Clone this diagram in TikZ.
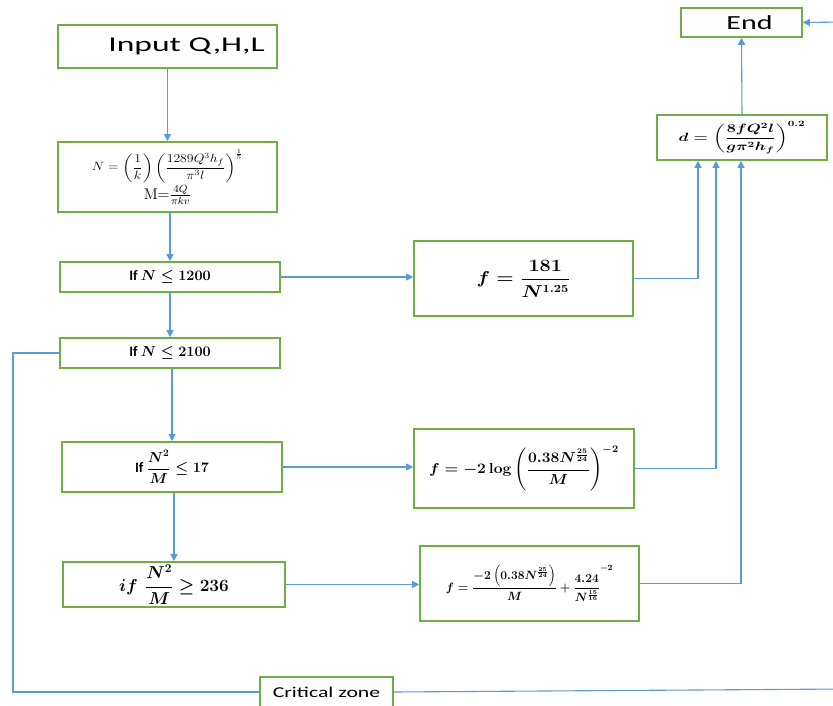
\documentclass[tikz,border=0pt]{standalone}
\usepackage{amsmath}
\usepackage{graphicx}
\usepackage[no-math]{fontspec}
\setmainfont{Carlito}
\usetikzlibrary{arrows.meta,calc}
\definecolor{boxgreen}{RGB}{112,173,71}
\definecolor{lineblue}{RGB}{91,155,213}
\newcommand{\xs}[2]{\scalebox{#1}[1]{#2}}
\begin{document}
\begin{tikzpicture}[x=1pt,y=-1pt,
  box/.style={draw=boxgreen,line width=1.6pt,inner sep=0pt,align=center,fill=white},
  conn/.style={draw=lineblue,line width=1.1pt},
  arr/.style={conn,-{Triangle[width=7pt,length=7pt]}}]
\useasboundingbox (0,0) rectangle (833,706);
% nodes
\node[box,minimum width=219pt,minimum height=43pt] (input) at (167.5,46.5) {\hspace*{38pt}\xs{1.6}{\fontsize{21}{24}\selectfont Input Q,H,L}};
\node[box,minimum width=219pt,minimum height=70pt] (form) at (167.5,177)
  {\xs{1.15}{\fontsize{12}{14}\selectfont $N=\left(\dfrac{1}{k}\right)\left(\dfrac{1289Q^3h_f}{\pi^3 l}\right)^{\frac{1}{5}}$}\\[2pt]
   \scalebox{1.3}{\fontsize{12}{14}\selectfont $\mathrm{M}{=}\frac{4Q}{\pi k v}$}};
\node[box,minimum width=220pt,minimum height=30pt] (c1200) at (170,277) {\fontsize{14.4}{16}\selectfont\textbf{If} $\boldsymbol{N\le 1200}$};
\node[box,minimum width=220pt,minimum height=30pt] (c2100) at (170,353) {\fontsize{14.4}{16}\selectfont\textbf{If} $\boldsymbol{N\le 2100}$};
\node[box,minimum width=220pt,minimum height=50pt] (c17) at (172,467) {\fontsize{14.4}{16}\selectfont\textbf{If} $\boldsymbol{\dfrac{N^2}{M}\le 17}$};
\node[box,minimum width=222pt,minimum height=45pt] (c236) at (174,584.5) {\fontsize{16.5}{18}\selectfont $\boldsymbol{if\ \ \dfrac{N^2}{M}\ge 236}$};
\node[box,minimum width=219pt,minimum height=75pt] (f1) at (523.5,278.5) {\xs{1.15}{\fontsize{16}{18}\selectfont $\boldsymbol{f=\dfrac{181}{N^{1.25}}}$}};
\node[box,minimum width=220pt,minimum height=79pt] (f2) at (524,468.5) {\xs{1.08}{\fontsize{14}{16}\selectfont $\boldsymbol{f=-2\log\left(\dfrac{0.38N^{\frac{25}{24}}}{M}\right)^{-2}}$}};
\node[box,minimum width=219pt,minimum height=75pt] (f3) at (529.5,583.5) {\fontsize{12}{14}\selectfont $\boldsymbol{f=\dfrac{-2\left(0.38N^{\frac{25}{24}}\right)}{M}+\dfrac{4.24}{N^{\frac{15}{16}}}^{\raisebox{7pt}{$\scriptstyle-2$}}}$};
\node[box,minimum width=170pt,minimum height=45pt] (d) at (742,137.5) {\xs{1.35}{\fontsize{12}{14}\selectfont $\boldsymbol{d=\left(\dfrac{8fQ^2l}{g\pi^2h_f}\right)^{0.2}}$}};
\node[box,minimum width=121pt,minimum height=29pt] (end) at (741.5,22.5) {\hspace*{16pt}\xs{1.5}{\fontsize{20}{24}\selectfont End}};
\node[box,minimum width=133pt,minimum height=30pt] (cz) at (326.5,692) {\xs{1.45}{\fontsize{15}{17}\selectfont Critical zone}};
% vertical chain
\draw[arr] (input.south) -- (form.north);
\draw[arr] (form.south -| c1200) -- (c1200.north);
\draw[arr] (c1200.south) -- (c2100.north);
\draw[arr] (c2100.south -| c17) -- (c17.north);
\draw[arr] (c17.south -| c236) -- (c236.north);
% to formulas
\draw[arr] (c1200.east) -- (c1200.east -| f1.west);
\draw[arr] (c17.east) -- (c17.east -| f2.west);
\draw[arr] (c236.east) -- (c236.east -| f3.west);
% to d
\draw[arr] (f1.east) -| ([xshift=-44pt]d.south);
\draw[arr] (f2.east) -| ([xshift=-26pt]d.south);
\draw[arr] (f3.east) -| ([xshift=-1pt]d.south);
\draw[arr] (d.north) -- (end.south);
% critical zone loop
\draw[conn] (c2100.west) -- (13,353) |- (cz.west);
\draw[arr] (cz.east) -- (845,689) -- (845,22) -- (end.east);
\end{tikzpicture}
\end{document}
